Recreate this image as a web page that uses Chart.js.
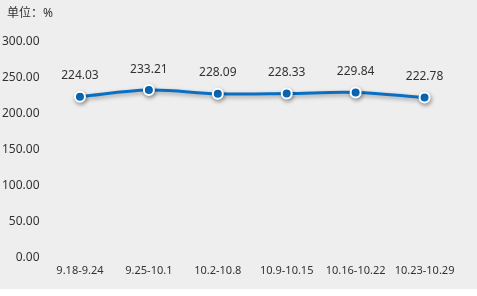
<!DOCTYPE html>
<html>
<head>
<meta charset="utf-8">
<script src="https://cdn.jsdelivr.net/npm/chart.js@4"></script>
<style>
  html, body { margin: 0; padding: 0; background: #fff; }
  #wrap { width: 477px; height: 289px; background: #eeeeee; }
</style>
</head>
<body>
<div id="wrap"><canvas id="myChart" width="477" height="289"></canvas></div>
<script>
// Datas
const weeks = ["9.18-9.24", "9.25-10.1", "10.2-10.8", "10.9-10.15", "10.16-10.22", "10.23-10.29"];
const rates = [224.03, 233.21, 228.09, 228.33, 229.84, 222.78];
const unitLabel = "单位：%";

const font = "'Noto Sans', 'Noto Sans CJK SC', sans-serif";

// title text + value labels + line shadow
const extras = {
    id: 'extras',
    beforeDatasetDraw(chart) {
        const ctx = chart.ctx;
        ctx.save();
        ctx.shadowColor = 'rgba(0,0,0,0.35)';
        ctx.shadowBlur = 4;
        ctx.shadowOffsetX = 1;
        ctx.shadowOffsetY = 2;
    },
    afterDatasetDraw(chart) {
        chart.ctx.restore();
    },
    afterDraw(chart) {
        const ctx = chart.ctx;
        ctx.save();
        ctx.fillStyle = '#333';
        ctx.font = "12px " + font;
        ctx.textBaseline = 'middle';
        ctx.textAlign = 'left';
        ctx.fillText(unitLabel, 7, 14);
        ctx.textAlign = 'center';
        const meta = chart.getDatasetMeta(0);
        meta.data.forEach((pt, i) => {
            ctx.fillText(rates[i].toFixed(2), pt.x, pt.y - 21);
        });
        ctx.restore();
    }
};

const myChart = new Chart('myChart', {
    type: 'line',
    data: {
        labels: weeks,
        datasets: [{
            data: rates,
            borderColor: '#0a6fc2',
            backgroundColor: '#0a6fc2',
            borderWidth: 3,
            pointRadius: 5,
            pointBorderWidth: 2,
            pointBorderColor: '#ffffff',
            pointBackgroundColor: '#0a6fc2',
            tension: 0.35,
            fill: false
        }]
    },
    options: {
        responsive: false,
        animation: false,
        layout: { padding: { top: 42, right: 18, bottom: 0, left: 0 } },
        plugins: { legend: { display: false }, tooltip: { enabled: false } },
        scales: {
            x: {
                offset: true,
                grid: { display: false, drawTicks: false },
                border: { display: false },
                ticks: { color: '#333', font: { size: 11, family: font }, padding: 6, maxRotation: 0, autoSkip: false },
                afterFit(s) { s.height = 31; }
            },
            y: {
                min: 0, max: 300,
                grid: { display: false, drawTicks: false },
                border: { display: false },
                ticks: {
                    stepSize: 50, color: '#333', padding: 6,
                    font: { size: 12, family: font },
                    callback: v => v.toFixed(2)
                },
                afterFit(s) { s.width = 45.5; }
            }
        }
    },
    plugins: [extras]
});
</script>
</body>
</html>
